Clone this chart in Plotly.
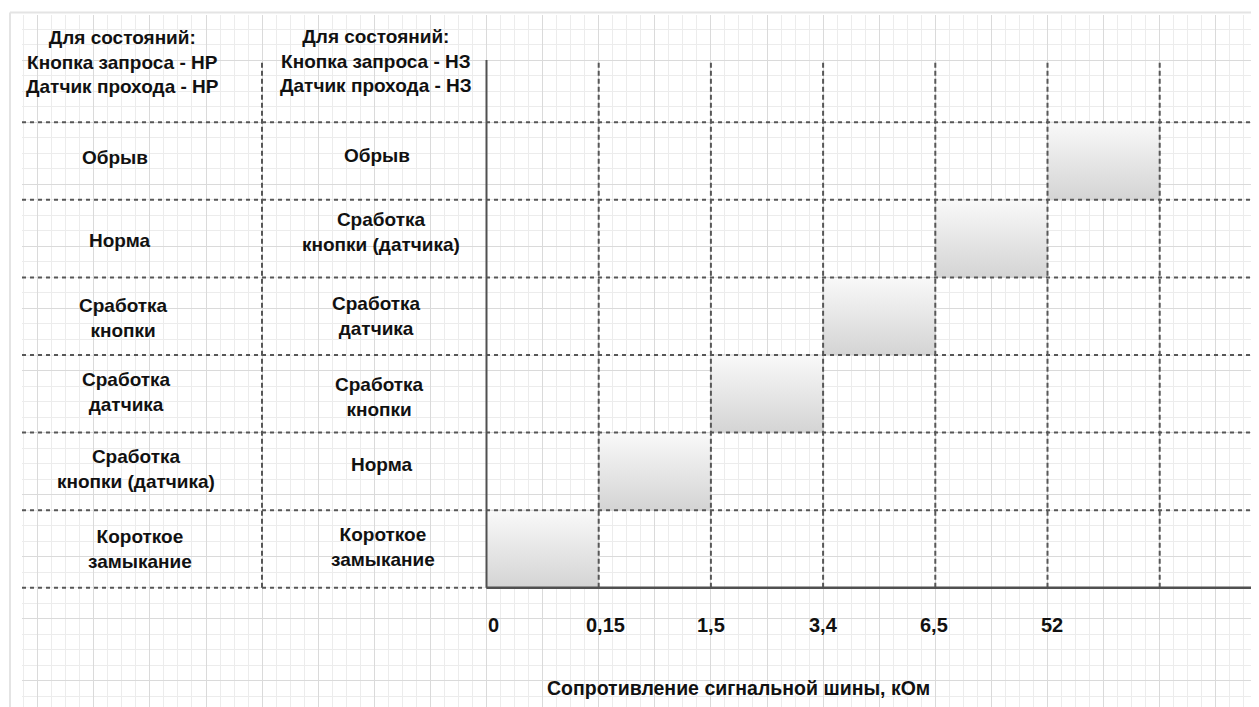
import plotly.graph_objects as go

# ---------------- data ----------------
thresholds = ["0", "0,15", "1,5", "3,4", "6,5", "52"]          # bus resistance boundaries, kOhm
states_no = ["Короткое<br>замыкание", "Сработка<br>кнопки (датчика)", "Сработка<br>датчика",
             "Сработка<br>кнопки", "Норма", "Обрыв"]                 # НР/НР, bottom -> top
states_nc = ["Короткое<br>замыкание", "Норма", "Сработка<br>кнопки",
             "Сработка<br>датчика", "Сработка<br>кнопки (датчика)", "Обрыв"]  # НЗ/НЗ, bottom -> top
header_no = "Для состояний:<br>Кнопка запроса - НР<br>Датчик прохода - НР"
header_nc = "Для состояний:<br>Кнопка запроса - НЗ<br>Датчик прохода - НЗ"
x_title = "Сопротивление сигнальной шины, кОм"
interval_state = [0, 1, 2, 3, 4, 5]   # state row reached in each resistance interval

# ---------------- geometry (page pixels; page has an 8px body margin) ----------------
OFF = 8
PAGE_W, PAGE_H = 1259, 707
W, H = PAGE_W - OFF, PAGE_H - OFF
PL, PT, PR, PB = 22, 15, PAGE_W, OFF + H        # plot area edges in page pixels
X0PX, UX = 486.5, 112.2     # page pixel of x=0, pixels per interval
Y0PX, UY = 587.8, 77.6      # page pixel of y=0, pixels per state row

def px_x(px):
    return (px - X0PX) / UX

def px_y(py):
    return (Y0PX - py) / UY

XMIN, XMAX = px_x(PL), px_x(PR)
YMIN, YMAX = px_y(PB), px_y(PT)
TOP = px_y(60)

FONT = "Liberation Sans, Arial, sans-serif"
TXT = "#111111"
LINE = "#575757"

fig = go.Figure()

# bars (gradient boxes)
for i, lvl in enumerate(interval_state):
    x0, x1 = i, i + 1
    y0, y1 = lvl, lvl + 1
    fig.add_trace(go.Scatter(
        x=[x0, x1, x1, x0, x0], y=[y0, y0, y1, y1, y0],
        mode="lines", fill="toself",
        line=dict(color="#d2d2d2", width=1),
        fillgradient=dict(type="vertical",
                          colorscale=[[0, "#d4d4d4"], [1, "#f9f9f9"]]),
        hoverinfo="skip", showlegend=False))

shapes = []
# horizontal dotted row separators
for k in range(1, len(states_no) + 1):
    shapes.append(dict(type="line", xref="x", yref="y", x0=XMIN, x1=XMAX, y0=k, y1=k,
                       line=dict(color=LINE, width=2, dash="4px,4px")))
shapes.append(dict(type="line", xref="x", yref="y", x0=XMIN, x1=0, y0=0, y1=0,
                   line=dict(color=LINE, width=2, dash="4px,4px")))
# table divider
shapes.append(dict(type="line", xref="x", yref="y", x0=px_x(262), x1=px_x(262), y0=0, y1=TOP,
                   line=dict(color=LINE, width=2, dash="5px,3px")))
# vertical dashed lines at thresholds
for i in range(1, len(thresholds) + 1):
    shapes.append(dict(type="line", xref="x", yref="y", x0=i, x1=i, y0=0, y1=TOP,
                       line=dict(color=LINE, width=2, dash="5px,3px")))
# axes
shapes.append(dict(type="line", xref="x", yref="y", x0=0, x1=0, y0=0, y1=TOP,
                   line=dict(color="#505050", width=2)))
shapes.append(dict(type="line", xref="x", yref="y", x0=0, x1=XMAX, y0=0, y1=0,
                   line=dict(color="#505050", width=2.5)))
# outer page border
pw, ph = PR - PL, PB - PT
def paper_x(px):
    return (px - PL) / pw
def paper_y(py):
    return (PB - py) / ph
shapes.append(dict(type="line", xref="paper", yref="paper",
                   x0=paper_x(10), x1=1.0, y0=paper_y(12.5), y1=paper_y(12.5),
                   line=dict(color="#e4e4e4", width=2)))
shapes.append(dict(type="line", xref="paper", yref="paper",
                   x0=paper_x(10), x1=paper_x(10), y0=paper_y(12.5), y1=paper_y(PB),
                   line=dict(color="#e4e4e4", width=2)))

ann = []
def label(text, xpx, ypx, size=19):
    ann.append(dict(text=text, x=px_x(xpx), y=px_y(ypx), xref="x", yref="y",
                    showarrow=False, xanchor="center", yanchor="middle", align="center",
                    font=dict(family=FONT, size=size, color=TXT, weight="bold")))

label(header_no, 122, 62)
label(header_nc, 376, 61)

col1_x = [140, 136, 126, 123, 119, 115]
col1_y = [549, 469, 392, 318, 240, 157]
col2_x = [383, 381, 379, 376, 381, 377]
col2_y = [547, 464, 397, 316, 232, 155]
for i, s in enumerate(states_no):
    label(s, col1_x[i], col1_y[i])
for i, s in enumerate(states_nc):
    label(s, col2_x[i], col2_y[i])

tick_shift = [6.5, 7, 0, 0, -1, 4]
for i, t in enumerate(thresholds):
    ann.append(dict(text=t, x=i, y=px_y(625), xref="x", yref="y", xshift=tick_shift[i],
                    showarrow=False, xanchor="center", yanchor="middle",
                    font=dict(family=FONT, size=20, color=TXT, weight="bold")))

ann.append(dict(text=x_title, x=px_x(738), y=px_y(688), xref="x", yref="y",
                showarrow=False, xanchor="center", yanchor="middle",
                font=dict(family=FONT, size=19.5, color=TXT, weight="bold")))

fig.update_layout(
    width=W, height=H,
    margin=dict(l=PL - OFF, r=0, t=PT - OFF, b=0, autoexpand=False),
    paper_bgcolor="white", plot_bgcolor="white",
    shapes=shapes, annotations=ann, showlegend=False,
    xaxis=dict(range=[XMIN, XMAX], showgrid=True, gridcolor="#dadada", gridwidth=1,
               tick0=0, dtick=0.5, zeroline=False, showticklabels=False, ticks="",
               showline=False, fixedrange=True,
               minor=dict(tick0=0, dtick=0.125, showgrid=True, gridcolor="#ececec", gridwidth=1)),
    yaxis=dict(range=[YMIN, YMAX], showgrid=True, gridcolor="#dadada", gridwidth=1,
               tick0=-0.4, dtick=0.8, zeroline=False, showticklabels=False, ticks="",
               showline=False, fixedrange=True,
               minor=dict(tick0=-0.4, dtick=0.2, showgrid=True, gridcolor="#ececec", gridwidth=1)),
)

fig.write_html("out.html")
